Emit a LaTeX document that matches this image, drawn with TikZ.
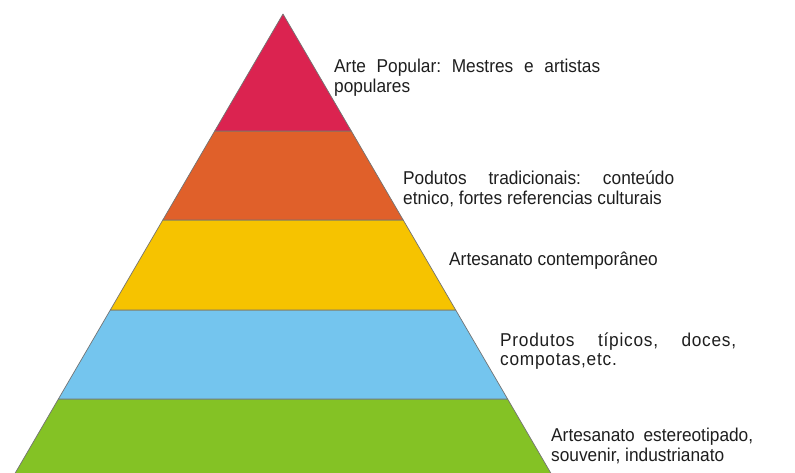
\documentclass[tikz,border=0pt]{standalone}
\usepackage{fontspec}
\setmainfont[FakeStretch=0.93]{Liberation Sans}
\newfontfamily\spacedfont[FakeStretch=0.93,LetterSpace=4]{Liberation Sans}
\definecolor{tierred}{RGB}{219,35,80}
\definecolor{tierorange}{RGB}{224,96,42}
\definecolor{tieryellow}{RGB}{246,195,0}
\definecolor{tierblue}{RGB}{116,197,238}
\definecolor{tiergreen}{RGB}{132,194,37}
\definecolor{labelgray}{RGB}{30,30,30}
\begin{document}
\frenchspacing
\begin{tikzpicture}[x=1pt,y=-1pt,
  tier/.style={draw=black!55,line width=0.7pt,line join=round},
  label/.style={anchor=base west,inner sep=0pt,align=justify,
    font=\fontsize{18.6}{19.8}\selectfont,text=labelgray}]
\useasboundingbox (0,0) rectangle (795,473);
\begin{scope}
\clip (0,0) rectangle (795,473);
% pyramid tiers, bottom to top
\fill[tiergreen]  (58.4,399) -- (507.6,399) -- (556,482) -- (10,482) -- cycle;
\draw[tier] (10,482) -- (58.4,399) -- (507.6,399) -- (556,482);
\filldraw[tier,fill=tierblue]   (110.3,310) -- (455.7,310) -- (507.6,399) -- (58.4,399) -- cycle;
\filldraw[tier,fill=tieryellow] (162.8,220) -- (403.2,220) -- (455.7,310) -- (110.3,310) -- cycle;
\filldraw[tier,fill=tierorange] (214.7,131) -- (351.3,131) -- (403.2,220) -- (162.8,220) -- cycle;
\filldraw[tier,fill=tierred]    (283,14) -- (351.3,131) -- (214.7,131) -- cycle;
\end{scope}
% tier descriptions
\node[label,text width=266pt] (t1) at (334,72.3)
  {Arte Popular: Mestres e artistas\linebreak populares};
\node[label,text width=271pt] (t2) at (403,185)
  {Podutos tradicionais: conteúdo\linebreak etnico, fortes referencias culturais};
\node[label,text width=212pt] (t3) at (449,265)
  {Artesanato contemporâneo};
\node[label,text width=236pt,font=\fontsize{18.6}{19.8}\spacedfont] (t4) at (500,346)
  {Produtos típicos, doces,\linebreak compotas,etc.};
\node[label,text width=202pt] (t5) at (551,441.7)
  {Artesanato estereotipado,\linebreak souvenir, industrianato};
\end{tikzpicture}
\end{document}
